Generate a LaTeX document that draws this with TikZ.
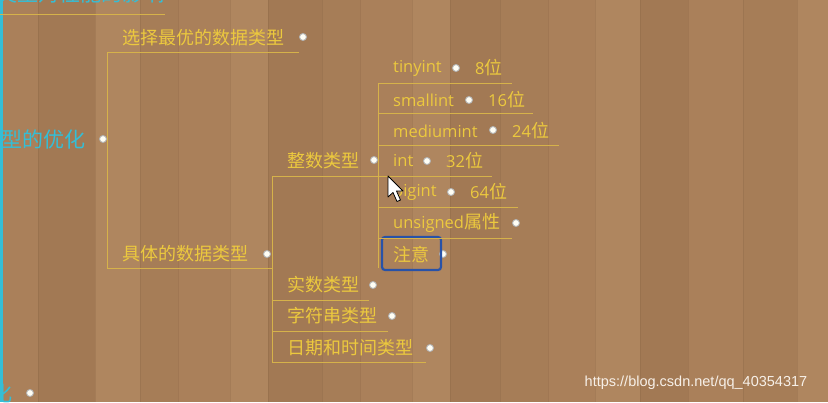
\documentclass[tikz,border=0pt]{standalone}
\usepackage{fontspec}
\newfontfamily\cjk{Noto Sans CJK SC}
\newfontfamily\lat{Open Sans}
\newfontfamily\wmfont{Liberation Sans}
\definecolor{tyellow}{RGB}{236,201,62}
\definecolor{lyellow}{RGB}{214,178,74}
\definecolor{tcyan}{RGB}{52,190,214}
\definecolor{boxblue}{RGB}{40,82,168}
\definecolor{plankA}{RGB}{170,128,90}
\definecolor{plankB}{RGB}{162,121,84}
\definecolor{plankC}{RGB}{175,134,95}
\definecolor{plankD}{RGB}{166,125,87}
\definecolor{seam}{RGB}{120,86,58}
\tikzset{
  txt/.style={font=\cjk\fontsize{18}{18}\selectfont, text=tyellow, inner sep=0pt, anchor=west},
  ltxt/.style={font=\lat\fontsize{16.5}{16.5}\selectfont, text=tyellow, inner sep=0pt, anchor=west},
  ctxt/.style={font=\cjk\fontsize{21}{21}\selectfont, text=tcyan, inner sep=0pt},
  dotnode/.style={circle, fill=white!96!yellow, draw=gray!60, line width=0.9pt, minimum size=7pt, inner sep=0pt},
  ul/.style={draw=lyellow, line width=0.8pt},
}
\begin{document}
\begin{tikzpicture}[x=1pt,y=-1pt]
\useasboundingbox (0,0) rectangle (828,402);
\clip (0,0) rectangle (828,402);
% wood background
\foreach \a/\b/\c in {0/38/A, 38/95/B, 95/140/C, 140/178/D, 178/230/A, 230/268/C, 268/322/B, 322/360/D, 360/412/A, 412/450/C, 450/500/B, 500/548/D, 548/595/A, 595/640/C, 640/688/B, 688/743/A, 743/797/D, 797/828/C}{
  \fill[plank\c] (\a,0) rectangle (\b,402);
  \draw[seam, opacity=0.2, line width=0.6pt] (\a,0) -- (\a,402);
}
% left cyan bar
\fill[tcyan] (0,0) rectangle (2.5,402);

% root (cut off) texts
\node[ctxt, anchor=east] (toptxt) at (165,-6.5) {数据类型对性能的影响};
\node[ctxt, anchor=east] (root) at (86,140) {数据类型的优化};
\node[dotnode] (rootdot) at (103,139) {};
\node[ctxt, anchor=east] (bottxt) at (13,394) {数据库结构优化};
\node[dotnode] (botdot) at (30,393) {};

% level 1
\node[txt] (sel) at (122,38) {选择最优的数据类型};
\node[dotnode] (seldot) at (303,37) {};
\node[txt] (spec) at (122,254) {具体的数据类型};
\node[dotnode] (specdot) at (267,254) {};

% level 2
\node[txt] (inttype) at (287,161) {整数类型};
\node[dotnode] (inttypedot) at (374,160) {};
\node[txt] (real) at (287,285) {实数类型};
\node[dotnode] (realdot) at (373,285) {};
\node[txt] (str) at (287,316) {字符串类型};
\node[dotnode] (strdot) at (392,316) {};
\node[txt] (date) at (287,348) {日期和时间类型};
\node[dotnode] (datedot) at (430,348) {};

% level 3
\node[ltxt] (tiny) at (393,68) {tinyint};
\node[dotnode] (tinydot) at (456,68) {};
\node[txt] (b8) at (475,68) {{\lat\fontsize{16.5}{16.5}\selectfont 8}位};
\node[ltxt] (small) at (393,100) {smallint};
\node[dotnode] (smalldot) at (469,100) {};
\node[txt] (b16) at (488,100) {{\lat\fontsize{16.5}{16.5}\selectfont 16}位};
\node[ltxt] (medium) at (393,131) {mediumint};
\node[dotnode] (mediumdot) at (493,130) {};
\node[txt] (b24) at (512,131) {{\lat\fontsize{16.5}{16.5}\selectfont 24}位};
\node[ltxt] (int) at (393,161) {int};
\node[dotnode] (intdot) at (427,161) {};
\node[txt] (b32) at (446,161) {{\lat\fontsize{16.5}{16.5}\selectfont 32}位};
\node[ltxt] (big) at (393,192) {bigint};
\node[dotnode] (bigdot) at (451,192) {};
\node[txt] (b64) at (470,192) {{\lat\fontsize{16.5}{16.5}\selectfont 64}位};
\node[txt] (uns) at (393,223) {{\lat\fontsize{16.5}{16.5}\selectfont unsigned}属性};
\node[dotnode] (unsdot) at (516,223) {};
\node[txt] (note) at (393,254) {注意};
\node[dotnode] (notedot) at (443,254) {};
\node[draw=boxblue, line width=2.2pt, rounded corners=3pt, inner sep=0pt, minimum width=59pt, minimum height=33pt] (notebox) at (411.5,253.5) {};

% connectors
\coordinate (t0) at (0,14);
\coordinate (t1) at (165,14);
\draw[ul] (t0) -- (t1);

\coordinate (a1) at (107,52);
\coordinate (a2) at (107,268);
\coordinate (b1) at (272,176);
\coordinate (b2) at (272,268);
\coordinate (b3) at (272,362);
\coordinate (c1) at (378,83);
\coordinate (c2) at (378,268);

\draw[ul] (a1) -- (a2);
\draw[ul] (a1) -- (a1 -| seldot.west);
\draw[ul] (a2) -- (b2);

\draw[ul] (b1) -- (b3);
\draw[ul] (b1) -- (b1 -| c1);
\coordinate (r1) at (272,300);
\coordinate (r2) at (272,331);
\draw[ul] (r1) -- (r1 -| realdot.west);
\draw[ul] (r2) -- (r2 -| strdot.west);
\draw[ul] (b3) -- (b3 -| datedot.west);

\draw[ul] (c1) -- (c2);
\draw[ul] (c1) -- ([xshift=9pt]c1 -| b8.east);
\coordinate (s1) at (378,113);
\coordinate (s2) at (378,145);
\coordinate (s3) at (378,176);
\coordinate (s4) at (378,207);
\coordinate (s5) at (378,238);
\draw[ul] (s1) -- ([xshift=8pt]s1 -| b16.east);
\draw[ul] (s2) -- ([xshift=10pt]s2 -| b24.east);
\draw[ul] (s3) -- ([xshift=9pt]s3 -| b32.east);
\draw[ul] (s4) -- ([xshift=11pt]s4 -| b64.east);
\draw[ul] (s5) -- (s5 -| unsdot.west);

% mouse cursor
\draw[black, fill=white, line width=0.8pt, line join=round]
  (388,176) -- (388,197) -- (393,192.5) -- (397,201.5) -- (400.5,200) -- (396.5,191) -- (403,191) -- cycle;

% watermark
\node[font=\wmfont\fontsize{14.5}{14.5}\selectfont, text=white!88!brown, inner sep=0pt] (wm) at (696,383) {https://blog.csdn.net/qq\_40354317};
\end{tikzpicture}
\end{document}
